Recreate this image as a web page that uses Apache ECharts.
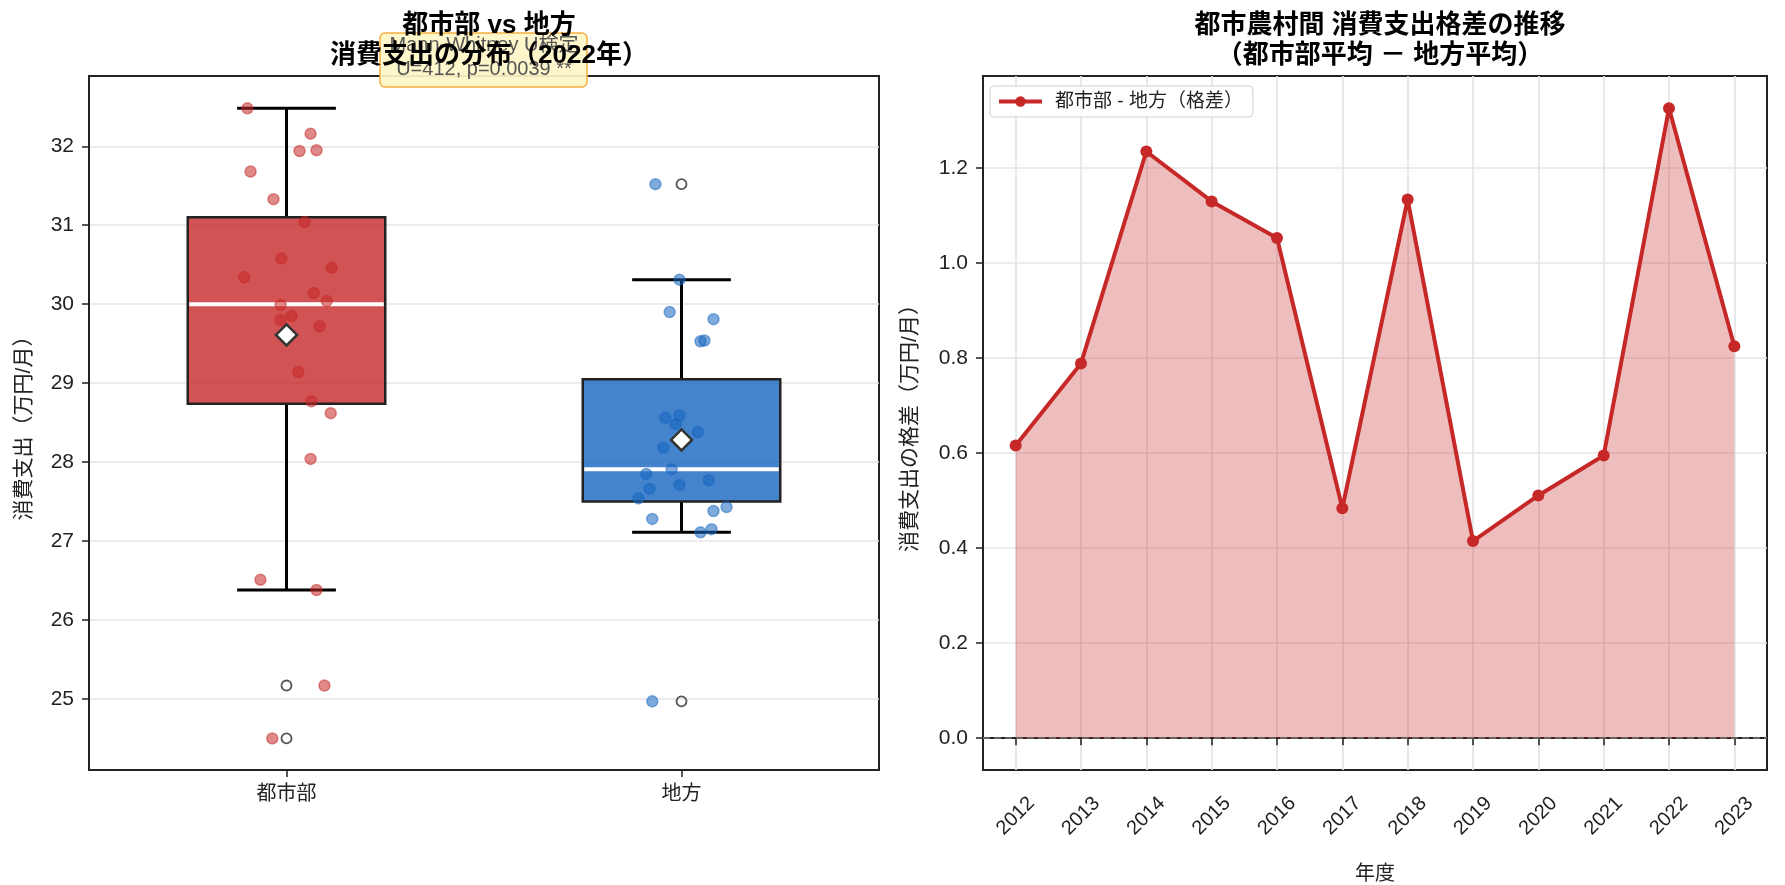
<!DOCTYPE html>
<html>
<head>
<meta charset="utf-8">
<script src="https://cdn.jsdelivr.net/npm/echarts@6/dist/echarts.min.js"></script>
<style>
html, body { margin: 0; padding: 0; background: #fff; }
#main { width: 1785px; height: 885px; }
</style>
</head>
<body>
<div id="main"></div>
<script>
// 2022年 消費支出（万円/月）
var groups = ['都市部', '地方'];
var urbanValues = [32.48, 32.16, 31.94, 31.95, 31.68, 31.33, 31.04, 30.58, 30.46, 30.34, 30.14, 30.04,
                   29.99, 29.80, 29.85, 29.72, 29.14, 28.77, 28.62, 28.04, 26.51, 26.38, 25.17, 24.50];
var urbanJitter = [-0.099, 0.061, 0.033, 0.076, -0.091, -0.033, 0.046, -0.013, 0.114, -0.107, 0.069, 0.102,
                   -0.015, -0.015, 0.013, 0.084, 0.030, 0.063, 0.112, 0.061, -0.066, 0.076, 0.096, -0.036];
var ruralValues = [31.52, 30.31, 29.90, 29.81, 29.53, 29.54, 28.56, 28.59, 28.48, 28.38, 28.18, 27.91,
                   27.85, 27.77, 27.71, 27.66, 27.54, 27.43, 27.38, 27.28, 27.15, 27.11, 24.97];
var ruralJitter = [-0.066, -0.005, -0.030, 0.081, 0.048, 0.058, -0.041, -0.005, -0.015, 0.041, -0.046, -0.025,
                   -0.089, 0.069, -0.005, -0.081, -0.109, 0.114, 0.081, -0.074, 0.076, 0.048, -0.074];
// 箱ひげ: [下ひげ, Q1, 中央値, Q3, 上ひげ]
var urbanBox = [26.38, 28.74, 30.00, 31.10, 32.48];
var ruralBox = [27.11, 27.50, 27.91, 29.05, 30.31];
var groupMeans = [29.61, 28.28];
var urbanOutliers = [25.17, 24.50];
var ruralOutliers = [31.52, 24.97];

// 格差の推移
var years = ['2012', '2013', '2014', '2015', '2016', '2017', '2018', '2019', '2020', '2021', '2022', '2023'];
var gapValues = [0.616, 0.789, 1.235, 1.130, 1.053, 0.484, 1.134, 0.415, 0.511, 0.595, 1.326, 0.825];

var FONT = '"Liberation Sans", "Noto Sans CJK JP", sans-serif';
var boxColors = ['rgba(198,40,40,0.8)', 'rgba(21,101,192,0.8)'];

function jitterData(vals, jit, pos) {
    return vals.map(function (v, i) { return [pos + jit[i], v]; });
}

function renderBox(params, api) {
    var x = api.value(0);
    var lo = api.coord([x, api.value(1)]);
    var q1 = api.coord([x, api.value(2)]);
    var med = api.coord([x, api.value(3)]);
    var q3 = api.coord([x, api.value(4)]);
    var hi = api.coord([x, api.value(5)]);
    var half = api.size([0.25, 0])[0];
    var cap = half / 2;
    var cx = lo[0];
    var ws = { stroke: '#000', lineWidth: 3 };
    return {
        type: 'group',
        children: [
            { type: 'line', shape: { x1: cx, y1: q3[1], x2: cx, y2: hi[1] }, style: ws },
            { type: 'line', shape: { x1: cx, y1: q1[1], x2: cx, y2: lo[1] }, style: ws },
            { type: 'line', shape: { x1: cx - cap, y1: hi[1], x2: cx + cap, y2: hi[1] }, style: ws },
            { type: 'line', shape: { x1: cx - cap, y1: lo[1], x2: cx + cap, y2: lo[1] }, style: ws },
            { type: 'rect', shape: { x: cx - half, y: q3[1], width: half * 2, height: q1[1] - q3[1] },
              style: { fill: boxColors[params.dataIndex], stroke: '#222', lineWidth: 2.5 } },
            { type: 'line', shape: { x1: cx - half + 1.5, y1: med[1], x2: cx + half - 1.5, y2: med[1] },
              style: { stroke: '#fff', lineWidth: 4 } }
        ]
    };
}

var chart = echarts.init(document.getElementById('main'));
var axisLine = { show: true, lineStyle: { color: '#222', width: 2 } };
var axisTick = { show: true, length: 7, lineStyle: { color: '#222', width: 1.5 } };
var gridLine = { show: true, showMinLine: false, showMaxLine: false, lineStyle: { color: '#e6e6e6', width: 1.7 } };
var titleStyle = { fontSize: 26, fontWeight: 'bold', lineHeight: 30, color: '#000', fontFamily: FONT };

chart.setOption({
    animation: false,
    textStyle: { fontFamily: FONT },
    title: [
        { text: '都市部 vs 地方\n消費支出の分布（2022年）', left: 484, top: 6, textAlign: 'center', z: 10, textStyle: titleStyle },
        { text: '都市農村間 消費支出格差の推移\n（都市部平均 － 地方平均）', left: 1375, top: 6, textAlign: 'center', z: 10, textStyle: titleStyle }
    ],
    graphic: [
        { type: 'rect', z: 5, shape: { x: 380, y: 33, width: 207, height: 54, r: 5 },
          style: { fill: 'rgba(255,246,200,0.92)', stroke: '#f5b040', lineWidth: 1.5 } },
        { type: 'text', z: 5, x: 484, y: 45,
          style: { text: 'Mann-Whitney U検定', fill: '#555', font: '20px ' + FONT, textAlign: 'center', textVerticalAlign: 'middle' } },
        { type: 'text', z: 5, x: 484, y: 69,
          style: { text: 'U=412, p=0.0039 **', fill: '#555', font: '20px ' + FONT, textAlign: 'center', textVerticalAlign: 'middle' } }
    ],
    legend: {
        data: ['都市部 - 地方（格差）'],
        left: 990, top: 86,
        padding: [6, 10, 6, 7],
        backgroundColor: 'rgba(255,255,255,0.85)',
        borderColor: '#d0d0d0', borderWidth: 1, borderRadius: 4,
        itemWidth: 43, itemHeight: 13,
        lineStyle: { width: 4 },
        textStyle: { fontSize: 19, color: '#222', fontFamily: FONT, padding: [0, 0, 0, 8] }
    },
    grid: [
        { left: 89, top: 76, width: 790, height: 694, show: true, borderColor: '#222', borderWidth: 2, outerBoundsMode: 'none' },
        { left: 983, top: 76, width: 784, height: 694, show: true, borderColor: '#222', borderWidth: 2, outerBoundsMode: 'none' }
    ],
    xAxis: [
        {
            gridIndex: 0, type: 'category', data: groups, boundaryGap: true,
            axisLine: axisLine, axisTick: { show: true, alignWithLabel: true, length: 7, lineStyle: { color: '#222', width: 1.5 } },
            axisLabel: { fontSize: 20, color: '#222', margin: 14 },
            splitLine: { show: false }
        },
        { gridIndex: 0, type: 'value', min: 0.5, max: 2.5, show: false },
        {
            gridIndex: 1, type: 'category', data: years, boundaryGap: true,
            name: '年度', nameLocation: 'middle', nameGap: 94,
            nameTextStyle: { fontSize: 20, color: '#222' },
            axisLine: axisLine,
            axisTick: { show: true, alignWithLabel: true, length: 7, lineStyle: { color: '#222', width: 1.5 } },
            axisLabel: { fontSize: 20, color: '#222', rotate: 45, margin: 46, align: 'center', verticalAlign: 'middle', interval: 0 },
            splitLine: { show: true, alignWithLabel: true, lineStyle: { color: '#e6e6e6', width: 1.7 } }
        }
    ],
    yAxis: [
        {
            gridIndex: 0, type: 'value', min: 24.1, max: 32.89,
            splitNumber: 8, minInterval: 1, maxInterval: 1,
            name: '消費支出（万円/月）', nameLocation: 'middle', nameGap: 54,
            nameTextStyle: { fontSize: 21, color: '#222' },
            axisLine: axisLine, axisTick: axisTick,
            axisLabel: { fontSize: 21, color: '#222', margin: 15, showMinLabel: false, showMaxLabel: false },
            splitLine: gridLine
        },
        {
            gridIndex: 1, type: 'value', min: -0.067, max: 1.394,
            splitNumber: 7, minInterval: 0.2, maxInterval: 0.2,
            name: '消費支出の格差（万円/月）', nameLocation: 'middle', nameGap: 62,
            nameTextStyle: { fontSize: 21, color: '#222' },
            axisLine: axisLine, axisTick: axisTick,
            axisLabel: { fontSize: 21, color: '#222', margin: 15, showMinLabel: false, showMaxLabel: false,
                         formatter: function (v) { return v.toFixed(1); } },
            splitLine: gridLine
        }
    ],
    series: [
        {
            type: 'custom', xAxisIndex: 1, yAxisIndex: 0,
            renderItem: renderBox,
            encode: { x: 0, y: [1, 2, 3, 4, 5] },
            data: [[1].concat(urbanBox), [2].concat(ruralBox)],
            z: 2
        },
        {
            type: 'scatter', xAxisIndex: 1, yAxisIndex: 0, symbolSize: 11,
            data: jitterData(urbanValues, urbanJitter, 1),
            itemStyle: { color: 'rgba(198,40,40,0.55)', borderColor: 'rgba(198,40,40,0.5)', borderWidth: 1.5, opacity: 1 },
            z: 3
        },
        {
            type: 'scatter', xAxisIndex: 1, yAxisIndex: 0, symbolSize: 11,
            data: jitterData(ruralValues, ruralJitter, 2),
            itemStyle: { color: 'rgba(21,101,192,0.55)', borderColor: 'rgba(21,101,192,0.5)', borderWidth: 1.5, opacity: 1 },
            z: 3
        },
        {
            type: 'scatter', xAxisIndex: 1, yAxisIndex: 0, symbolSize: 10,
            data: urbanOutliers.map(function (v) { return [1, v]; }).concat(ruralOutliers.map(function (v) { return [2, v]; })),
            itemStyle: { color: 'rgba(255,255,255,0)', borderColor: '#555', borderWidth: 1.8, opacity: 1 },
            z: 4
        },
        {
            type: 'scatter', xAxisIndex: 1, yAxisIndex: 0, symbol: 'diamond', symbolSize: 21,
            data: groupMeans.map(function (v, i) { return [i + 1, v]; }),
            itemStyle: { color: '#fff', borderColor: '#333', borderWidth: 2.5, opacity: 1 },
            z: 5
        },
        {
            type: 'line', name: '都市部 - 地方（格差）', xAxisIndex: 2, yAxisIndex: 1,
            data: gapValues,
            symbol: 'circle', symbolSize: 12,
            lineStyle: { color: '#c62828', width: 4 },
            itemStyle: { color: '#c62828' },
            areaStyle: { color: 'rgba(198,40,40,0.3)', opacity: 1 },
            markLine: {
                silent: true, symbol: 'none', label: { show: false },
                lineStyle: { color: '#777', type: [7, 4], width: 1.5 },
                data: [{ yAxis: 0 }]
            },
            z: 3
        }
    ]
});
</script>
</body>
</html>
